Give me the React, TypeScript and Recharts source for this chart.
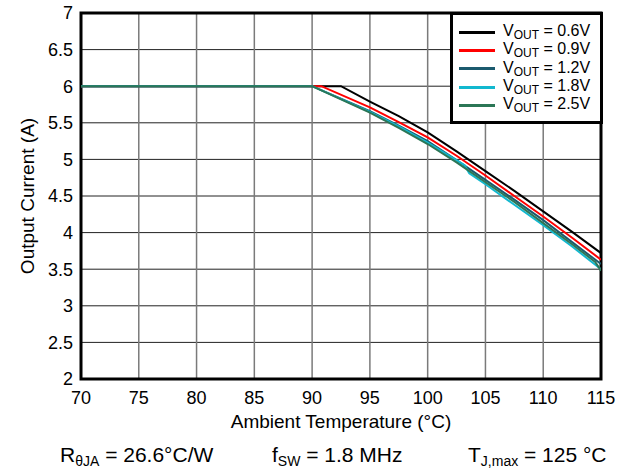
import React from "react";
import {
  LineChart,
  Line,
  XAxis,
  YAxis,
  CartesianGrid,
  ReferenceArea,
} from "recharts";

// ambient temperature ticks / output current ticks
const tempTicks = [70, 75, 80, 85, 90, 95, 100, 105, 110, 115];
const currentTicks = [2, 2.5, 3, 3.5, 4, 4.5, 5, 5.5, 6, 6.5, 7];

// derating curves
const vout06Temp = [70, 92.5, 95, 97.5, 100, 102.5, 105, 107.5, 110, 112.5, 115];
const vout06Curr = [6, 6, 5.79, 5.59, 5.37, 5.11, 4.84, 4.57, 4.29, 4.01, 3.72];

const vout09Temp = [70, 90.8, 95, 97.5, 100, 102.5, 105, 107.5, 110, 112.5, 115];
const vout09Curr = [6, 6, 5.71, 5.51, 5.3, 5.05, 4.78, 4.5, 4.22, 3.93, 3.63];

const vout12Temp = [70, 90, 95, 97.5, 100, 102.5, 105, 107.5, 110, 112.5, 115];
const vout12Curr = [6, 6, 5.66, 5.46, 5.25, 4.99, 4.72, 4.45, 4.17, 3.87, 3.57];

const vout18Temp = [70, 90, 95, 97.5, 100, 103.2, 103.6, 105, 107.5, 110, 112.5, 115];
const vout18Curr = [6, 6, 5.65, 5.45, 5.23, 4.92, 4.81, 4.66, 4.38, 4.1, 3.81, 3.5];

const vout25Temp = [70, 90, 95, 97.5, 100, 102.5, 105, 107.5, 110, 112.5, 114.5, 115];
const vout25Curr = [6, 6, 5.64, 5.43, 5.21, 4.96, 4.69, 4.42, 4.13, 3.84, 3.6, 3.48];

const toPoints = (temps: number[], currents: number[]) =>
  temps.map((t, i) => ({ temp: t, current: currents[i] }));

const series = [
  { label: "0.6V", color: "#000000", data: toPoints(vout06Temp, vout06Curr) },
  { label: "0.9V", color: "#ff0000", data: toPoints(vout09Temp, vout09Curr) },
  { label: "1.2V", color: "#1b5a6e", data: toPoints(vout12Temp, vout12Curr) },
  { label: "1.8V", color: "#12b8cf", data: toPoints(vout18Temp, vout18Curr) },
  { label: "2.5V", color: "#2b7656", data: toPoints(vout25Temp, vout25Curr) },
];

const FONT = "'Liberation Sans', Arial, sans-serif";

const Sub: React.FC<{ children: React.ReactNode; size?: number }> = ({ children, size = 12 }) => (
  <span style={{ fontSize: size, verticalAlign: "-0.25em", lineHeight: 1 }}>{children}</span>
);

const noteStyle: React.CSSProperties = {
  position: "absolute",
  top: 444,
  fontSize: 21,
  lineHeight: "21px",
  whiteSpace: "nowrap",
};

const App: React.FC = () => {
  return (
    <div
      style={{
        position: "absolute",
        left: 0,
        top: 0,
        width: 628,
        height: 471,
        background: "#fff",
        fontFamily: FONT,
        color: "#000",
        overflow: "hidden",
      }}
    >
      <LineChart
        width={628}
        height={471}
        margin={{ top: 13, right: 27, left: 0, bottom: 42 }}
        style={{ fontFamily: FONT }}
      >
        <CartesianGrid horizontal={true} vertical={false} stroke="#222" strokeWidth={1} />
        <CartesianGrid horizontal={false} vertical={true} stroke="#7a7a7a" strokeWidth={1.5} />
        <XAxis
          type="number"
          dataKey="temp"
          domain={[70, 115]}
          ticks={tempTicks}
          allowDataOverflow
          height={50}
          tickLine={false}
          axisLine={false}
          tickMargin={6}
          tick={{ fill: "#000", fontSize: 18 }}
          label={{
            value: "Ambient Temperature (°C)",
            position: "insideBottom",
            offset: 1,
            style: { fill: "#000", fontSize: 19 },
          }}
        />
        <YAxis
          type="number"
          dataKey="current"
          domain={[2, 7]}
          ticks={currentTicks}
          allowDataOverflow
          width={81}
          tickLine={false}
          axisLine={false}
          tick={{ fill: "#000", fontSize: 18 }}
          label={{
            value: "Output Current (A)",
            angle: -90,
            position: "insideLeft",
            offset: 27,
            style: { fill: "#000", fontSize: 19, textAnchor: "middle" },
          }}
        />
        {series.map((s) => (
          <Line
            key={s.label}
            data={s.data}
            dataKey="current"
            type="linear"
            stroke={s.color}
            strokeWidth={2}
            dot={false}
            activeDot={false}
            isAnimationActive={false}
          />
        ))}
        <ReferenceArea
          x1={70}
          x2={115}
          y1={2}
          y2={7}
          fill="none"
          stroke="#000"
          strokeWidth={3}
          ifOverflow="visible"
        />
      </LineChart>

      {/* legend box */}
      <div
        style={{
          position: "absolute",
          left: 450,
          top: 12,
          width: 153,
          height: 112,
          border: "3px solid #000",
          boxSizing: "border-box",
          background: "#fff",
          paddingTop: 8,
        }}
      >
        {series.map((s) => (
          <div
            key={s.label}
            style={{ display: "flex", alignItems: "center", height: 18.3, fontSize: 16 }}
          >
            <div style={{ width: 36, height: 3, background: s.color, marginLeft: 6, marginRight: 8 }} />
            <span style={{ whiteSpace: "nowrap", lineHeight: "16px" }}>
              V<Sub>OUT</Sub> = {s.label}
            </span>
          </div>
        ))}
      </div>

      {/* operating conditions */}
      <div style={{ ...noteStyle, left: 60 }}>
        R<Sub size={14}>θJA</Sub> = 26.6°C/W
      </div>
      <div style={{ ...noteStyle, left: 272 }}>
        f<Sub size={14}>SW</Sub> = 1.8 MHz
      </div>
      <div style={{ ...noteStyle, left: 468 }}>
        T<Sub size={14}>J,max</Sub> = 125 °C
      </div>
    </div>
  );
};

export default App;
